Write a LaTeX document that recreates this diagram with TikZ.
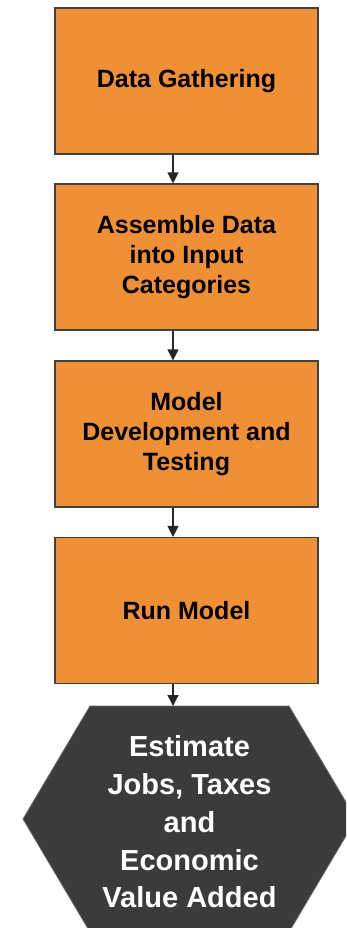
\documentclass[tikz,border=0pt]{standalone}
\usepackage{fontspec}
\setmainfont{Liberation Sans}
\usetikzlibrary{arrows.meta, positioning, calc}

\definecolor{stageorange}{HTML}{EF8F36}
\definecolor{stageline}{HTML}{404040}
\definecolor{resultgray}{HTML}{3B3B3B}

\begin{document}
\begin{tikzpicture}[
        x=1pt, y=-1pt,
        >={Triangle[width=11pt,length=11pt]},
        stage/.style={
            draw=stageline, line width=1.2pt, rectangle,
            minimum width=263pt, minimum height=146pt,
            fill=stageorange, align=center,
            font=\fontsize{25pt}{30pt}\selectfont\bfseries
        },
        result/.style={
            align=center, text=white,
            font=\fontsize{29pt}{37.7pt}\selectfont\bfseries
        },
        arrow/.style={->, line width=1.3pt, color=black!85}
    ]

    % page frame
    \clip (0,0) rectangle (346,928);

    % 1. process stages
    \node (gather) [stage] at (186.5,81) {Data Gathering};
    \node (assemble) [stage] at (186.5,257) {Assemble Data\\into Input\\Categories};
    \node (develop) [stage] at (186.5,434) {Model\\Development and\\Testing};
    \node (run) [stage] at (186.5,610.5) {Run Model};

    % 2. final hexagon
    \coordinate (hexTL) at (90,706);
    \coordinate (hexTR) at (289,706);
    \coordinate (hexR) at (356,819);
    \coordinate (hexBR) at (289,932);
    \coordinate (hexBL) at (90,932);
    \coordinate (hexL) at (23,819);
    \coordinate (hextop) at (173,706);
    \draw[fill=resultgray, draw=black!60, line width=0.8pt]
        (hexTL) -- (hexTR) -- (hexR) -- (hexBR) -- (hexBL) -- (hexL) -- cycle;
    \node (estimate) [result] at (189.5,822) {Estimate\\Jobs, Taxes\\and\\Economic\\Value Added};

    % 3. connectors
    \coordinate (axis) at (173,0);
    \draw[arrow] (gather.south -| axis) -- (assemble.north -| axis);
    \draw[arrow] (assemble.south -| axis) -- (develop.north -| axis);
    \draw[arrow] (develop.south -| axis) -- (run.north -| axis);
    \draw[arrow] (run.south -| axis) -- (hextop);

\end{tikzpicture}
\end{document}
